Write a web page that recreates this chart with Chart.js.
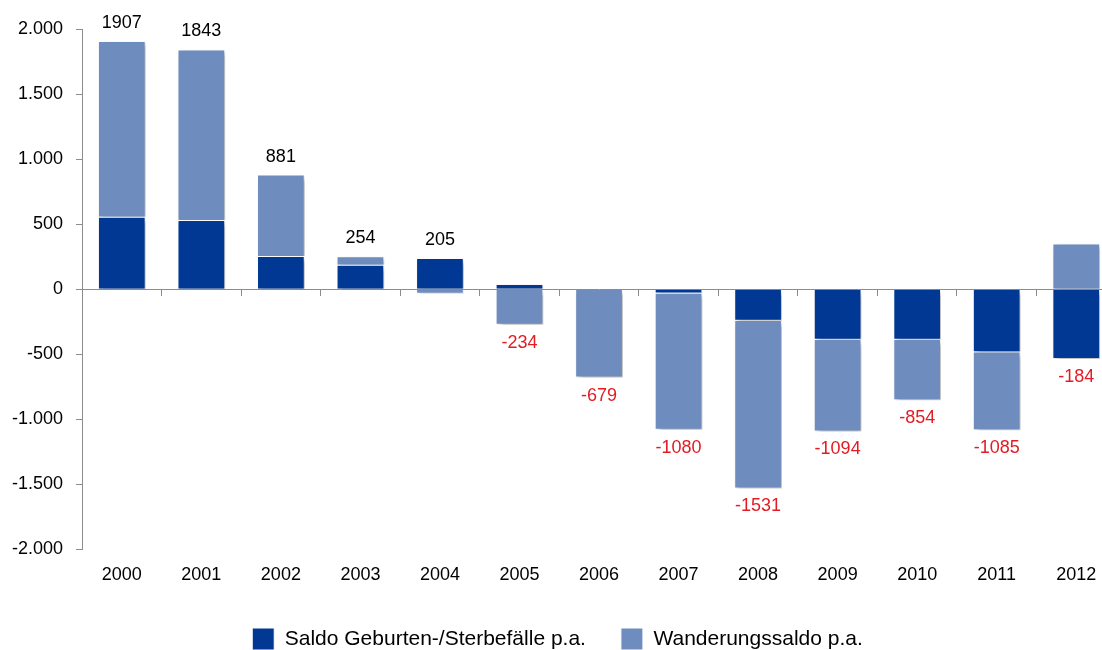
<!DOCTYPE html>
<html>
<head>
<meta charset="utf-8">
<script src="https://cdn.jsdelivr.net/npm/chart.js@4"></script>
<style>
  html, body { margin: 0; padding: 0; background: #fff; overflow: hidden; }
  /* plot runs past the right edge of the window, as in the original export */
  #wrap { width: 1116px; height: 650px; }
</style>
</head>
<body>
<div id="wrap"><canvas id="chart"></canvas></div>
<script>
const years = ['2000', '2001', '2002', '2003', '2004', '2005', '2006', '2007', '2008', '2009', '2010', '2011', '2012'];
const natural = [557, 531, 255, 188, 240, 40, 0, -33, -242, -389, -389, -485, -536];
const migration = [1350, 1312, 626, 66, -35, -274, -679, -1047, -1289, -705, -465, -600, 352];
const totals = [1907, 1843, 881, 254, 205, -234, -679, -1080, -1531, -1094, -854, -1085, -184];
const yTicks = [-2000, -1500, -1000, -500, 0, 500, 1000, 1500, 2000];

const darkBlue = '#013893';
const lightBlue = '#6e8dbe';
const axisGray = '#8c8c8c';
const fontFam = '"Liberation Sans", Arial, sans-serif';

function fmtDe(v) {
    const s = Math.abs(v).toString().replace(/\B(?=(\d{3})+(?!\d))/g, '.');
    return (v < 0 ? '-' : '') + s;
}

// soft drop shadow behind the bars
const shadowPlugin = {
    id: 'barShadow',
    beforeDatasetsDraw(chart) {
        const ctx = chart.ctx;
        ctx.save();
        ctx.shadowColor = 'rgba(0,0,0,0.3)';
        ctx.shadowBlur = 5;
        ctx.shadowOffsetX = 3;
        ctx.shadowOffsetY = 3;
    },
    afterDatasetsDraw(chart) {
        chart.ctx.restore();
    }
};

// totals above / below each stack
const totalsPlugin = {
    id: 'totals',
    afterDatasetsDraw(chart) {
        const ctx = chart.ctx;
        ctx.save();
        ctx.font = '18px ' + fontFam;
        ctx.textAlign = 'center';
        totals.forEach((t, i) => {
            let top = Infinity, bottom = -Infinity, x = 0;
            chart.data.datasets.forEach((ds, d) => {
                const el = chart.getDatasetMeta(d).data[i];
                x = el.x;
                top = Math.min(top, el.y, el.base);
                bottom = Math.max(bottom, el.y, el.base);
            });
            if (t >= 0) {
                ctx.fillStyle = '#000';
                ctx.textBaseline = 'bottom';
                ctx.fillText(String(t), x, top - 9);
            } else {
                ctx.fillStyle = '#e31b23';
                ctx.textBaseline = 'top';
                ctx.fillText(String(t), x, bottom + 9);
            }
        });
        ctx.restore();
    }
};

new Chart(document.getElementById('chart'), {
    type: 'bar',
    data: {
        labels: years,
        datasets: [
            {
                label: 'Saldo Geburten-/Sterbefälle p.a.',
                data: natural,
                backgroundColor: darkBlue,
                borderColor: '#ffffff',
                borderWidth: 1,
                categoryPercentage: 1,
                barPercentage: 0.6
            },
            {
                label: 'Wanderungssaldo p.a.',
                data: migration,
                backgroundColor: lightBlue,
                borderColor: '#ffffff',
                borderWidth: 1,
                categoryPercentage: 1,
                barPercentage: 0.6
            }
        ]
    },
    options: {
        responsive: true,
        maintainAspectRatio: false,
        animation: false,
        layout: { padding: { top: 29, right: 0, left: -1, bottom: -10 } },
        plugins: {
            legend: {
                position: 'bottom',
                labels: {
                    boxWidth: 22,
                    boxHeight: 22,
                    padding: 35,
                    color: '#000',
                    font: { size: 21, family: fontFam }
                }
            },
            tooltip: { enabled: false }
        },
        scales: {
            x: {
                stacked: true,
                grid: { display: false },
                border: { display: false },
                ticks: {
                    color: '#000',
                    padding: 7,
                    font: { size: 18, family: fontFam }
                }
            },
            x2: {
                type: 'category',
                position: { y: 0 },
                offset: true,
                grid: { offset: true, drawOnChartArea: false, tickLength: 6, color: axisGray },
                border: { display: true, color: axisGray, width: 1 },
                ticks: { display: false }
            },
            y: {
                stacked: true,
                min: -2000,
                max: 2000,
                afterBuildTicks(scale) {
                    scale.ticks = yTicks.map(v => ({ value: v }));
                },
                grid: { drawOnChartArea: false, tickLength: 6, color: axisGray },
                border: { display: true, color: axisGray, width: 1 },
                ticks: {
                    color: '#000',
                    padding: 13,
                    font: { size: 18, family: fontFam },
                    callback: v => fmtDe(v)
                }
            }
        }
    },
    plugins: [shadowPlugin, totalsPlugin]
});
</script>
</body>
</html>
